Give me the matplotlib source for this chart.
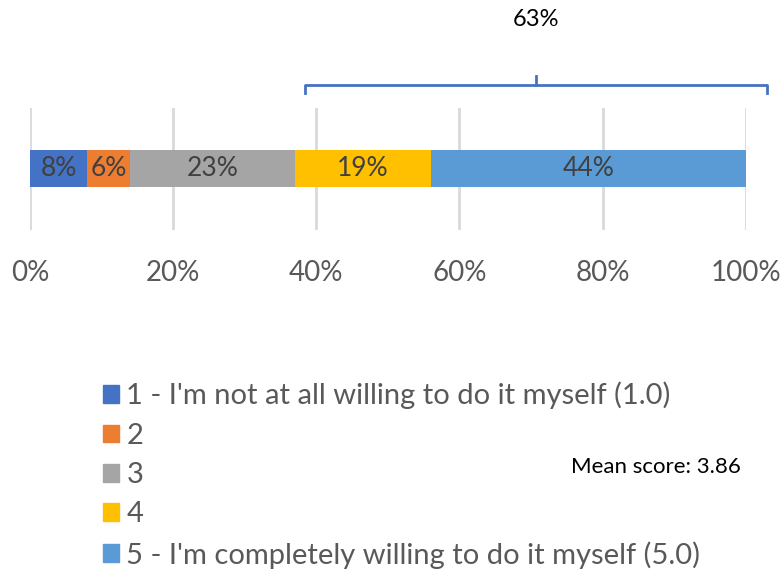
import matplotlib.pyplot as plt
from matplotlib.patches import Patch

plt.rcParams['font.family'] = ['Lato', 'DejaVu Sans']

# answer shares for one question, in percent
categories = ["1 - I'm not at all willing to do it myself (1.0)", "2", "3", "4",
              "5 - I'm completely willing to do it myself (5.0)"]
shares = [8, 6, 23, 19, 44]
colors = ["#4472C4", "#ED7D31", "#A5A5A5", "#FFC000", "#5B9BD5"]
ticks = [0, 20, 40, 60, 80, 100]
tick_labels = ["0%", "20%", "40%", "60%", "80%", "100%"]
top_two = shares[3] + shares[4]
mean_score = 3.86

fig = plt.figure(figsize=(7.8, 5.73), dpi=100)
ax = fig.add_axes([0.0385, 0.599, 0.9175, 0.2125])

left = 0
for share, color in zip(shares, colors):
    ax.barh(0, share, left=left, height=0.303, color=color, zorder=3)
    ax.text(left + share / 2, 0, f"{share}%", ha="center", va="center",
            fontsize=19, color="#404040", zorder=4)
    left += share

ax.set_xlim(0, 100)
ax.set_ylim(-0.5, 0.5)
ax.set_xticks(ticks)
ax.set_xticklabels(tick_labels, fontsize=20, color="#595959")
ax.set_yticks([])
ax.tick_params(axis="x", length=0, pad=22)
ax.grid(axis="x", color="#D9D9D9", linewidth=2, zorder=0)
for s in ax.spines.values():
    s.set_visible(False)

# bracket over the top two answers
bx0, bx1, by, bh = 38.4, 103.0, 0.69, 0.07
bmid = (bx0 + bx1) / 2
ax.plot([bx0, bx0, bx1, bx1], [by - bh, by, by, by - bh], color="#4472C4",
        linewidth=2, clip_on=False, solid_joinstyle="round")
ax.plot([bmid, bmid], [by, by + bh], color="#4472C4", linewidth=2, clip_on=False)
ax.text(bmid, 1.23, f"{top_two}%", ha="center", va="center", fontsize=17,
        color="black", clip_on=False)

handles = [Patch(color=c) for c in colors]
fig.legend(handles, categories, loc="upper left", bbox_to_anchor=(0.132, 0.334),
           frameon=False, fontsize=21, labelcolor="#595959", handlelength=0.55,
           handleheight=0.55, handletextpad=0.25, labelspacing=0.46,
           borderaxespad=0, borderpad=0)

fig.text(0.841, 0.185, f"Mean score: {mean_score}", ha="center", va="center",
         fontsize=16, color="black")

fig.savefig("out.png", dpi=100)
